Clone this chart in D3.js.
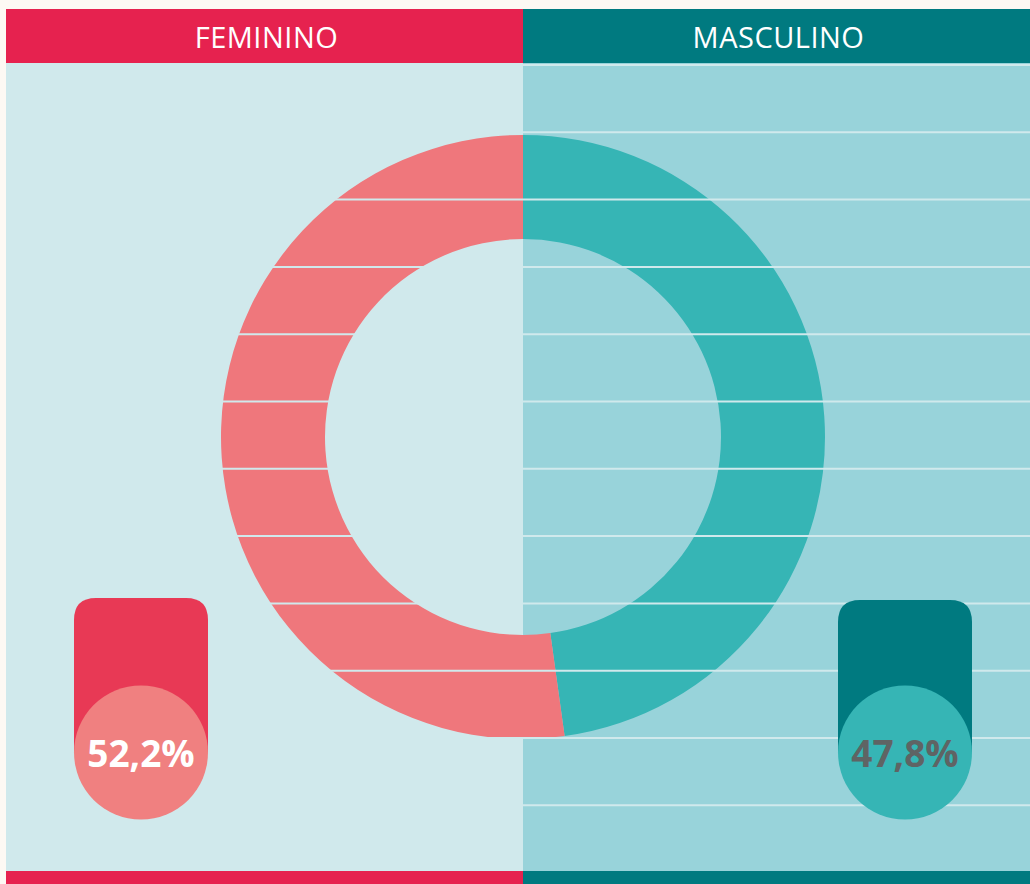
<!DOCTYPE html>
<html>
<head>
<meta charset="utf-8">
<script src="https://cdn.jsdelivr.net/npm/d3@7"></script>
<style>
  html, body { margin: 0; padding: 0; background: #fdf9f4; }
  svg { display: block; }
</style>
</head>
<body>
<svg id="chart"></svg>
<script>
// dados
const categories = ["FEMININO", "MASCULINO"];
const values = [52.2, 47.8];
const labels = ["52,2%", "47,8%"];

const width = 1030, height = 884;
const leftX = 6, topY = 9, split = 523, bottomY = 884;
const headerH = 54, footerH = 13;

const colors = {
  header: ["#e6224f", "#007a80"],
  panel: ["#d0e9ec", "#98d3da"],
  ring: ["#ef777c", "#36b5b5"],
  badge: ["#e83955", "#007a80"],
  bubble: ["#f08080", "#36b5b5"],
  text: ["#ffffff", "#5f6464"]
};

const svg = d3.select("#chart")
  .attr("width", width)
  .attr("height", height);

// painéis
const x = d3.scaleOrdinal().domain(categories).range([leftX, split]);
const w = d3.scaleOrdinal().domain(categories).range([split - leftX, width - split]);

svg.selectAll(".panel")
  .data(categories)
  .enter().append("rect")
  .attr("x", d => x(d))
  .attr("y", topY + headerH)
  .attr("width", d => w(d))
  .attr("height", bottomY - topY - headerH)
  .attr("fill", (d, i) => colors.panel[i]);

// donut
const cx = split, cy = 437, outerR = 302, innerR = 198;
// masculino no sentido horário a partir do topo, feminino no resto
const pie = d3.pie().sort(null).value(d => d.value);
const arcData = pie(categories.map((c, i) => ({ cat: c, value: values[i], i })).reverse());
const arc = d3.arc().innerRadius(innerR).outerRadius(outerR);

svg.append("g")
  .attr("transform", `translate(${cx},${cy})`)
  .selectAll("path")
  .data(arcData)
  .enter().append("path")
  .attr("d", arc)
  .attr("fill", d => colors.ring[d.data.i]);

// linhas horizontais (mesma cor do painel claro)
const lineY = d3.range(12).map(k => 65 + k * 67.3);
svg.selectAll(".hline")
  .data(lineY)
  .enter().append("line")
  .attr("x1", leftX)
  .attr("x2", width)
  .attr("y1", d => d)
  .attr("y2", d => d)
  .attr("stroke", colors.panel[0])
  .attr("stroke-width", 2);

// cabeçalho e rodapé
svg.selectAll(".header")
  .data(categories)
  .enter().append("rect")
  .attr("x", d => x(d))
  .attr("y", topY)
  .attr("width", d => w(d))
  .attr("height", headerH)
  .attr("fill", (d, i) => colors.header[i]);

svg.selectAll(".footer")
  .data(categories)
  .enter().append("rect")
  .attr("x", d => x(d))
  .attr("y", bottomY - footerH)
  .attr("width", d => w(d))
  .attr("height", footerH)
  .attr("fill", (d, i) => colors.header[i]);

svg.selectAll(".title")
  .data(categories)
  .enter().append("text")
  .attr("x", d => x(d) + w(d) / 2 + 2)
  .attr("y", topY + 39)
  .attr("text-anchor", "middle")
  .attr("fill", "#fff")
  .style("font-family", "'Open Sans', sans-serif")
  .style("font-size", "29px")
  .style("letter-spacing", "0.5px")
  .text(d => d);

// selos de percentagem
const badgeX = [141, 905];
const badgeTop = [598, 600];
const bw = 134, br = 67, by = 752.5, corner = 22;

function badgePath(cx0, t) {
  const l = cx0 - bw / 2, r = cx0 + bw / 2;
  return `M${l},${by} L${l},${t + corner} Q${l},${t} ${l + corner},${t}
          L${r - corner},${t} Q${r},${t} ${r},${t + corner} L${r},${by} Z`;
}

const badges = svg.selectAll(".badge")
  .data(categories)
  .enter().append("g");

badges.append("path")
  .attr("d", (d, i) => badgePath(badgeX[i], badgeTop[i]))
  .attr("fill", (d, i) => colors.badge[i]);

badges.append("circle")
  .attr("cx", (d, i) => badgeX[i])
  .attr("cy", by)
  .attr("r", br)
  .attr("fill", (d, i) => colors.bubble[i]);

badges.append("text")
  .attr("x", (d, i) => badgeX[i])
  .attr("y", by + 14)
  .attr("text-anchor", "middle")
  .attr("fill", (d, i) => colors.text[i])
  .style("font-family", "'Open Sans', sans-serif")
  .style("font-weight", "700")
  .style("font-size", "37px")
  .text((d, i) => labels[i]);
</script>
</body>
</html>
